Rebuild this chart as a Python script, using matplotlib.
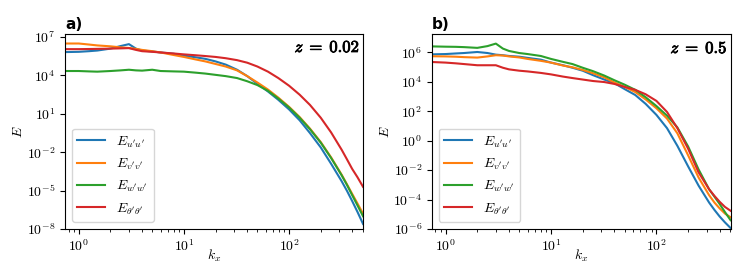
import numpy as np
import matplotlib
matplotlib.use("Agg")
import matplotlib.pyplot as plt
import matplotlib.patheffects as pe
from matplotlib.ticker import LogLocator, NullLocator

plt.rcParams['font.family'] = 'serif'
plt.rcParams['font.serif'] = ['cmr10', 'DejaVu Serif']
plt.rcParams['mathtext.fontset'] = 'cm'
plt.rcParams['axes.formatter.use_mathtext'] = True
plt.rcParams['font.size'] = 10

# wavenumber grid (both panels)
k_x = [0.74, 1, 1.25, 1.5, 2, 2.5, 3, 3.5, 4, 5, 6, 8, 10, 13, 16, 20, 25, 32,
       40, 50, 63, 79, 100, 126, 158, 200, 251, 316, 355, 398, 447, 505]

# a) z = 0.02 : log10 E
uu_a = [5.83, 5.85, 5.9, 5.95, 6.1, 6.3, 6.45, 6.1, 5.95, 5.88, 5.8, 5.7, 5.55, 5.42, 5.3, 5.1, 4.85, 4.45,
        3.95, 3.35, 2.75, 2.1, 1.35, 0.5, -0.5, -1.62, -2.9, -4.26, -5.01, -5.81, -6.66, -7.6]
vv_a = [6.5, 6.5, 6.42, 6.35, 6.28, 6.2, 6.15, 6.08, 6.0, 5.9, 5.8, 5.6, 5.45, 5.25, 5.1, 4.9, 4.7, 4.4,
        3.95, 3.45, 2.9, 2.27, 1.55, 0.75, -0.15, -1.2, -2.4, -3.75, -4.5, -5.25, -6.0, -6.8]
ww_a = [4.35, 4.35, 4.32, 4.3, 4.35, 4.4, 4.45, 4.4, 4.38, 4.45, 4.35, 4.32, 4.3, 4.22, 4.15, 4.05, 3.95, 3.8,
        3.55, 3.25, 2.8, 2.2, 1.5, 0.7, -0.2, -1.25, -2.45, -3.8, -4.55, -5.35, -6.15, -7.0]
tt_a = [6.06, 6.06, 6.07, 6.08, 6.1, 6.12, 6.14, 6.0, 5.9, 5.85, 5.8, 5.72, 5.65, 5.58, 5.52, 5.45, 5.35, 5.2,
        5.0, 4.7, 4.3, 3.8, 3.2, 2.5, 1.7, 0.7, -0.45, -1.8, -2.55, -3.3, -3.95, -4.7]

# b) z = 0.5
uu_b = [5.86, 5.88, 5.92, 5.95, 6.02, 5.95, 5.84, 5.8, 5.75, 5.7, 5.62, 5.5, 5.3, 5.12, 4.95, 4.75, 4.45, 4.15,
        3.9, 3.5, 3.1, 2.5, 1.75, 0.85, -0.35, -1.75, -3.05, -4.2, -4.7, -5.15, -5.55, -5.93]
vv_b = [5.73, 5.72, 5.7, 5.67, 5.64, 5.72, 5.8, 5.78, 5.72, 5.65, 5.55, 5.42, 5.3, 5.1, 4.98, 4.8, 4.58, 4.3,
        3.95, 3.65, 3.3, 2.8, 2.2, 1.5, 0.5, -1.0, -2.5, -3.7, -4.2, -4.6, -4.95, -5.2]
ww_b = [6.4, 6.38, 6.37, 6.35, 6.3, 6.42, 6.59, 6.25, 6.09, 5.95, 5.88, 5.75, 5.55, 5.35, 5.2, 4.95, 4.72, 4.42,
        4.1, 3.8, 3.45, 2.95, 2.35, 1.7, 0.9, -0.4, -1.95, -3.3, -3.8, -4.3, -4.85, -5.4]
tt_b = [5.34, 5.3, 5.25, 5.2, 5.12, 5.12, 5.12, 4.95, 4.84, 4.75, 4.7, 4.6, 4.5, 4.35, 4.25, 4.15, 4.05, 3.98,
        3.85, 3.65, 3.45, 3.15, 2.7, 1.95, 0.85, -0.55, -2.15, -3.3, -3.75, -4.15, -4.5, -4.76]

labels = [r"$E_{u'u'}$", r"$E_{v'v'}$", r"$E_{w'w'}$", r"$E_{\theta'\theta'}$"]
colors = ['tab:blue', 'tab:orange', 'tab:green', 'tab:red']

fig = plt.figure(figsize=(7.47, 2.8), dpi=100)
ax1 = fig.add_axes([0.087, 0.182, 0.399, 0.696])
ax2 = fig.add_axes([0.578, 0.182, 0.400, 0.696])

panels = [
    (ax1, [uu_a, vv_a, ww_a, tt_a], 'a)', r'$z\;=\;0.02$', (1e-8, 1.7e7), [1e-8, 1e-5, 1e-2, 1e1, 1e4, 1e7]),
    (ax2, [uu_b, vv_b, ww_b, tt_b], 'b)', r'$z\;=\;0.5$', (1e-6, 1.7e7), [1e-6, 1e-4, 1e-2, 1e0, 1e2, 1e4, 1e6]),
]

for ax, series, tag, ztxt, ylim, yt in panels:
    for s, lab, c in zip(series, labels, colors):
        ax.loglog(k_x, 10.0 ** np.array(s), color=c, label=lab, lw=1.5)
    ax.set_xlim(0.74, 505)
    ax.set_ylim(*ylim)
    ax.set_yticks(yt)
    ax.yaxis.set_minor_locator(NullLocator())
    ax.xaxis.set_minor_locator(LogLocator(subs=np.arange(2, 10)))
    ax.set_xlabel(r'$k_x$', labelpad=-5)
    ax.set_ylabel(r'$E$', labelpad=1)
    ax.set_title(tag, loc='left', fontfamily='DejaVu Sans', fontweight='bold', fontsize=11, pad=4)
    # bold look for the z label (faux bold via a thin stroke)
    ax.text(0.99, 0.975, ztxt, transform=ax.transAxes, ha='right', va='top', fontsize=12,
            path_effects=[pe.withStroke(linewidth=0.6, foreground='black')])
    ax.legend(loc='lower left', fontsize=10)

fig.savefig('out.png', dpi=100)
